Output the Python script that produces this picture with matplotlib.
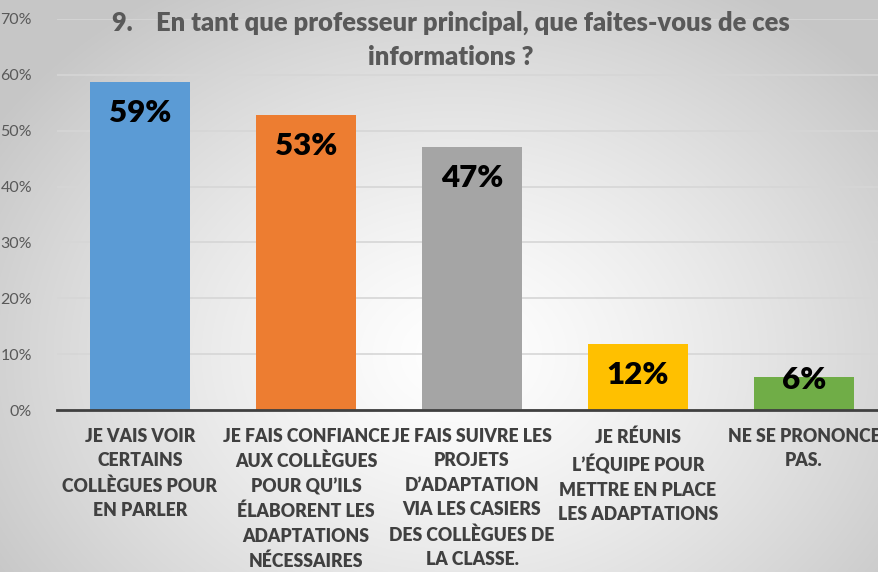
import numpy as np
import matplotlib
matplotlib.use("Agg")
import matplotlib.pyplot as plt

categories = [
    "JE VAIS VOIR\nCERTAINS\nCOLLÈGUES POUR\nEN PARLER",
    "JE FAIS CONFIANCE\nAUX COLLÈGUES\nPOUR QU’ILS\nÉLABORENT LES\nADAPTATIONS\nNÉCESSAIRES",
    "JE FAIS SUIVRE LES\nPROJETS\nD’ADAPTATION\nVIA LES CASIERS\nDES COLLÈGUES DE\nLA CLASSE.",
    "JE RÉUNIS\nL’ÉQUIPE POUR\nMETTRE EN PLACE\nLES ADAPTATIONS",
    "NE SE PRONONCE\nPAS.",
]
values = [58.8, 52.9, 47.1, 11.8, 5.9]
labels = ["59%", "53%", "47%", "12%", "6%"]
colors = ["#5B9BD5", "#ED7D31", "#A5A5A5", "#FFC000", "#70AD47"]
yticks = [0, 10, 20, 30, 40, 50, 60, 70]
title = "9.    En tant que professeur principal, que faites-vous de ces\ninformations ?"

plt.rcParams['font.family'] = ['Lato', 'DejaVu Sans']

W, H = 879, 572
fig = plt.figure(figsize=(W / 100, H / 100), dpi=100)

# radial gradient background
bg = fig.add_axes([0, 0, 1, 1])
yy, xx = np.mgrid[0:H, 0:W]
cx, cy = 0.52 * W, 0.62 * H
r = np.sqrt(((xx - cx) / (0.62 * W)) ** 2 + ((yy - cy) / (0.75 * H)) ** 2)
r = np.clip(r, 0, 1)
val = 1.0 - 0.22 * r ** 1.3
img = np.dstack([val, val, val])
bg.imshow(img, extent=[0, 1, 0, 1], aspect='auto', origin='upper')
bg.axis('off')

left = 57 / W
right = 887 / W
bottom = 1 - 410 / H
top = 1 - 19 / H
ax = fig.add_axes([left, bottom, right - left, top - bottom])
ax.patch.set_alpha(0)

x = np.arange(len(categories))
bars = ax.bar(x, values, width=0.6, color=colors, zorder=3)
ax.set_xlim(-0.5, len(categories) - 0.5)
ax.set_ylim(0, 70)
ax.set_yticks(yticks)
ax.set_yticklabels([f"{v}%" for v in yticks], color="#595959", fontsize=11.5)
ax.yaxis.grid(True, color="#D6D6D6", linewidth=1.2, zorder=0)
ax.set_xticks(x)
ax.set_xticklabels(categories, fontsize=12.7, fontweight='heavy', color="#404040",
                   linespacing=1.53, va='top')
ax.tick_params(axis='both', length=0)
ax.tick_params(axis='y', pad=18)
ax.tick_params(axis='x', pad=13)
for s in ['top', 'right', 'left']:
    ax.spines[s].set_visible(False)
ax.spines['bottom'].set_color("#404040")
ax.spines['bottom'].set_linewidth(2)
ax.spines['bottom'].set_zorder(4)

px_per_unit = (410 - 19) / 70.0
for b, lab in zip(bars, labels):
    hpx = b.get_height() * px_per_unit
    off = min(31, hpx - 30)
    ax.annotate(lab, (b.get_x() + b.get_width() / 2, b.get_height()),
                xytext=(0, -off), textcoords='offset pixels', ha='center', va='center',
                fontsize=22.5, fontweight='heavy', color='black', zorder=5)

fig.text(451 / W, 1 - 40 / H, title, ha='center', va='center', fontsize=18.4,
         fontweight='heavy', color="#595959", linespacing=1.5)

fig.savefig("out.png", dpi=100)
